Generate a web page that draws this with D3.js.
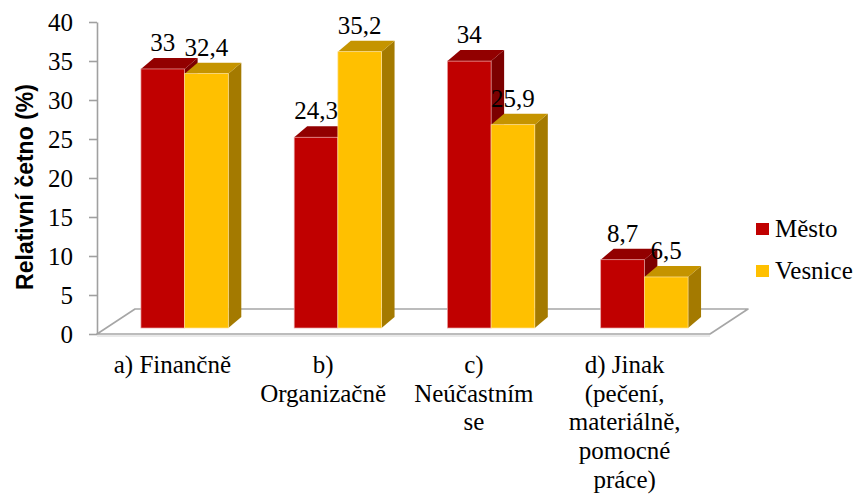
<!DOCTYPE html>
<html>
<head>
<meta charset="utf-8">
<script src="https://cdn.jsdelivr.net/npm/d3@7"></script>
</head>
<body style="margin:0">
<div id="chart"></div>
<script>
// data
const categories = ["a) Finančně", "b) Organizačně", "c) Neúčastním se", "d) Jinak (pečení, materiálně, pomocné práce)"];
const categoryLines = [
  ["a) Finančně"],
  ["b)", "Organizačně"],
  ["c)", "Neúčastním", "se"],
  ["d) Jinak", "(pečení,", "materiálně,", "pomocné", "práce)"]
];
const seriesNames = ["Město", "Vesnice"];
const mesto = [33, 24.3, 34, 8.7];
const vesnice = [32.4, 35.2, 25.9, 6.5];
const yTicks = [0, 5, 10, 15, 20, 25, 30, 35, 40];

const width = 864, height = 498;
const fontSerif = "Liberation Serif";
const front = { red: "#c00000", yellow: "#ffc000" };
const topCol = { red: "#920000", yellow: "#c59400" };
const sideCol = { red: "#7c0000", yellow: "#a47a00" };
const edgeCol = { red: "#e9a0a0", yellow: "#ffe29a" };
const keys = ["red", "yellow"];

// 3d depth offset of the bars and the floor
const dx = 13, dy = -11;
const fdx = 38, fdy = -25;

const svg = d3.select("#chart").append("svg")
  .attr("width", width)
  .attr("height", height)
  .attr("font-family", fontSerif);

// scales
const x = d3.scaleBand().domain(categories).range([108, 721]).paddingInner(0.43).paddingOuter(0.215);
const xSub = d3.scaleBand().domain(seriesNames).range([0, x.bandwidth()]);
const xLabel = d3.scaleBand().domain(categories).range([97, 700]);
const yAxisScale = d3.scaleLinear().domain([0, 40]).range([334, 22]);
const yBar = d3.scaleLinear().domain([0, 40]).range([328, 14]);

// floor
const fl = 97, fr = 710;
svg.append("path")
  .attr("d", `M${fl},334 L${fl + fdx},${334 + fdy} L${fr + fdx},${334 + fdy} L${fr},334 Z`)
  .attr("fill", "#fff")
  .attr("stroke", "#a6a6a6")
  .attr("stroke-width", 1.6)
  .attr("stroke-linejoin", "round");
svg.append("line")
  .attr("x1", fl).attr("x2", fr).attr("y1", 336).attr("y2", 336)
  .attr("stroke", "#e2e2e2").attr("stroke-width", 1.5);

// y axis (ticks from d3.axisLeft, labels drawn as plain texts)
const axis = svg.append("g")
  .attr("transform", "translate(97,0)")
  .call(d3.axisLeft(yAxisScale).tickValues(yTicks).tickSize(8).tickSizeOuter(0).tickFormat(""));
axis.select(".domain").attr("stroke", "#a0a0a0").attr("stroke-width", 1.6);
axis.selectAll(".tick line").attr("stroke", "#a0a0a0").attr("stroke-width", 1.6);
axis.selectAll(".tick text").remove();

svg.selectAll("text.ytick").data(yTicks).join("text")
  .attr("class", "ytick")
  .attr("font-family", fontSerif)
  .attr("font-size", 25)
  .attr("text-anchor", "end")
  .attr("x", 73)
  .attr("y", d => yAxisScale(d) + 8.5)
  .text(d => d);

// bars
const rows = categories.map((c, i) => ({ cat: c, vals: [mesto[i], vesnice[i]] }));
const groups = svg.append("g").selectAll("g").data(rows).join("g")
  .attr("transform", d => `translate(${x(d.cat)},0)`);

groups.each(function (d) {
  const g = d3.select(this);
  d.vals.forEach((v, j) => {
    const k = keys[j];
    const x0 = xSub(seriesNames[j]), x1 = x0 + xSub.bandwidth();
    const yt = yBar(v), yb = yBar(0);
    g.append("path")
      .attr("d", `M${x1},${yt} L${x1 + dx},${yt + dy} L${x1 + dx},${yb + dy} L${x1},${yb} Z`)
      .attr("fill", sideCol[k]);
    g.append("path")
      .attr("d", `M${x0},${yt} L${x0 + dx},${yt + dy} L${x1 + dx},${yt + dy} L${x1},${yt} Z`)
      .attr("fill", topCol[k]);
    g.append("rect")
      .attr("x", x0).attr("y", yt)
      .attr("width", x1 - x0).attr("height", yb - yt)
      .attr("fill", front[k])
      .attr("stroke", edgeCol[k]).attr("stroke-width", 0.7);
  });
});

// value labels
const valueData = [];
rows.forEach(r => r.vals.forEach((v, j) => valueData.push({ cat: r.cat, s: seriesNames[j], v })));
svg.selectAll("text.val").data(valueData).join("text")
  .attr("class", "val")
  .attr("font-family", fontSerif)
  .attr("font-size", 25)
  .attr("text-anchor", "middle")
  .attr("x", d => x(d.cat) + xSub(d.s) + xSub.bandwidth() / 2)
  .attr("y", d => yBar(d.v) - 18)
  .text(d => String(d.v).replace(".", ","));

// category labels
const labelData = [];
categories.forEach((c, i) => categoryLines[i].forEach((line, li) => labelData.push({ c, line, li })));
svg.selectAll("text.cat").data(labelData).join("text")
  .attr("class", "cat")
  .attr("font-family", fontSerif)
  .attr("font-size", 25)
  .attr("text-anchor", "middle")
  .attr("x", d => xLabel(d.c) + xLabel.bandwidth() / 2)
  .attr("y", d => 373 + d.li * 28.7)
  .text(d => d.line);

// y axis title
svg.append("text")
  .attr("transform", "translate(33,187) rotate(-90)")
  .attr("text-anchor", "middle")
  .attr("font-family", "Liberation Sans")
  .attr("font-weight", "bold")
  .attr("font-size", 23)
  .text("Relativní četno (%)");

// legend
svg.selectAll("rect.leg").data(seriesNames).join("rect")
  .attr("class", "leg")
  .attr("x", 756)
  .attr("y", (d, i) => 223 + i * 42)
  .attr("width", 13).attr("height", 12)
  .attr("fill", (d, i) => front[keys[i]]);
svg.selectAll("text.leg").data(seriesNames).join("text")
  .attr("class", "leg")
  .attr("font-family", fontSerif)
  .attr("font-size", 25)
  .attr("x", 775)
  .attr("y", (d, i) => 237 + i * 42)
  .text(d => d);
</script>
</body>
</html>
